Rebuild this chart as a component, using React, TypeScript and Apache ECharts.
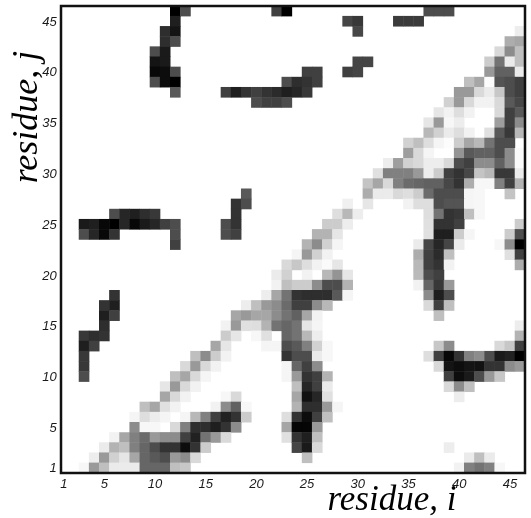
import React, { useEffect, useRef } from "react";
import * as echarts from "echarts";

const residues = Array.from({ length: 46 }, (_, k) => String(k + 1));
const tickedResidues = ["1", "5", "10", "15", "20", "25", "30", "35", "40", "45"];

// Each row: residue j, then [column index (residue i - 1), gray level 0 black .. 100 white]
const rows: [number, [number, number][]][] = [
  [46, [[11,0],[12,30],[21,25],[22,0],[36,30],[37,30],[38,30]]],
  [45, [[11,12],[28,27],[29,22],[33,23],[34,23],[35,23]]],
  [44, [[10,18],[11,8],[29,28],[45,93]]],
  [43, [[10,18],[11,30],[44,68],[45,65]]],
  [42, [[9,30],[10,10],[43,85],[44,55],[45,75]]],
  [41, [[9,8],[10,10],[29,27],[30,27],[42,80],[43,45],[44,92],[45,75]]],
  [40, [[9,3],[10,5],[11,30],[24,25],[25,25],[28,25],[29,27],[42,60],[43,38],[44,38],[45,92]]],
  [39, [[9,30],[10,5],[11,0],[22,30],[23,18],[24,20],[25,25],[40,75],[41,65],[42,99],[43,33],[44,30],[45,25]]],
  [38, [[11,35],[16,25],[17,12],[18,20],[19,25],[20,20],[21,17],[22,12],[23,15],[24,22],[39,60],[40,60],[41,85],[42,92],[43,78],[44,30],[45,25]]],
  [37, [[19,30],[20,25],[21,25],[22,30],[38,82],[39,60],[40,85],[41,95],[42,95],[43,85],[44,35],[45,28]]],
  [36, [[37,90],[38,95],[39,87],[40,95],[43,85],[44,25],[45,35]]],
  [35, [[36,90],[37,60],[38,97],[39,93],[43,62],[44,25],[45,55]]],
  [34, [[36,72],[37,82],[38,92],[39,87],[40,95],[42,88],[43,35],[44,22],[45,72]]],
  [33, [[34,82],[35,75],[36,87],[37,96],[38,99],[39,80],[40,65],[41,72],[42,45],[43,30],[44,30]]],
  [32, [[34,62],[35,85],[36,96],[39,58],[40,35],[41,38],[42,38],[43,30],[44,55],[45,98]]],
  [31, [[32,93],[33,62],[34,82],[35,85],[36,93],[37,93],[38,85],[39,30],[40,25],[41,55],[42,55],[43,38],[44,55],[45,98]]],
  [30, [[31,88],[32,50],[33,50],[34,50],[35,60],[36,93],[37,80],[38,25],[39,20],[40,28],[41,77],[42,72],[43,22],[44,22],[45,92]]],
  [29, [[30,77],[31,65],[32,85],[33,50],[34,42],[35,40],[36,38],[37,38],[38,28],[39,20],[40,68],[41,97],[42,97],[43,50],[44,25],[45,70]]],
  [28, [[18,35],[30,68],[31,92],[32,92],[33,85],[34,87],[35,80],[36,42],[37,30],[38,30],[39,30],[40,96],[41,97],[44,77]]],
  [27, [[17,20],[18,30],[28,94],[30,90],[34,95],[35,87],[36,87],[37,30],[38,33],[39,33],[40,96],[41,97]]],
  [26, [[5,30],[6,15],[7,12],[8,18],[9,22],[17,20],[27,87],[28,72],[29,93],[36,87],[37,45],[38,20],[39,22],[40,75],[41,97]]],
  [25, [[2,10],[3,12],[4,3],[5,0],[6,15],[7,3],[8,10],[9,15],[10,25],[11,30],[16,30],[17,20],[26,80],[27,80],[28,93],[36,88],[37,20],[38,20],[39,25],[45,80]]],
  [24, [[2,30],[3,15],[4,3],[5,20],[11,30],[16,30],[17,25],[25,70],[26,70],[27,90],[36,88],[37,12],[38,12],[39,80],[40,96],[44,80],[45,30]]],
  [23, [[11,25],[24,70],[25,55],[26,82],[27,96],[35,92],[36,27],[37,15],[38,27],[39,92],[43,97],[44,55],[45,0]]],
  [22, [[23,96],[24,60],[25,82],[26,95],[35,68],[36,25],[37,17],[38,75],[44,88],[45,25]]],
  [21, [[22,85],[23,78],[24,87],[25,95],[26,98],[27,90],[35,72],[36,25],[37,20],[38,95],[45,68]]],
  [20, [[21,92],[22,82],[24,95],[26,72],[27,58],[28,90],[35,73],[36,30],[37,25]]],
  [19, [[21,95],[22,75],[23,80],[24,80],[25,55],[26,30],[27,30],[28,70],[35,95],[36,40],[37,22],[38,60]]],
  [18, [[5,20],[20,93],[21,65],[22,45],[23,20],[24,18],[25,18],[26,18],[27,35],[28,96],[36,55],[37,12],[38,30]]],
  [17, [[4,20],[5,12],[18,93],[19,75],[20,60],[21,55],[22,42],[23,25],[24,25],[25,55],[26,72],[36,85],[37,25],[38,75]]],
  [16, [[4,12],[5,25],[17,65],[18,60],[19,65],[20,65],[21,55],[22,45],[23,38],[24,65],[25,95],[37,75]]],
  [15, [[4,18],[16,95],[17,60],[18,88],[19,87],[20,70],[21,45],[22,40],[23,45],[24,90],[25,96],[45,93]]],
  [14, [[2,22],[3,18],[4,20],[16,80],[17,90],[19,97],[20,88],[22,40],[23,45],[24,72],[25,93],[45,70]]],
  [13, [[2,12],[3,25],[15,65],[16,90],[20,96],[21,96],[22,30],[23,35],[24,50],[25,82],[26,97],[37,78],[38,55],[43,85],[44,78],[45,25]]],
  [12, [[2,22],[13,75],[14,55],[15,80],[16,95],[22,20],[23,30],[24,30],[25,92],[26,97],[36,87],[37,25],[38,3],[39,20],[40,50],[41,55],[42,30],[43,10],[44,13],[45,0]]],
  [11, [[2,22],[12,85],[13,60],[14,85],[15,95],[22,96],[23,40],[24,25],[25,55],[37,85],[38,8],[39,5],[40,8],[41,7],[42,20],[43,20],[44,55],[45,60]]],
  [10, [[2,30],[11,75],[12,65],[13,85],[14,96],[22,96],[23,60],[24,20],[25,25],[26,70],[38,25],[39,5],[40,10],[41,30],[42,60],[43,78]]],
  [9, [[10,90],[11,60],[12,85],[13,95],[23,75],[24,15],[25,25],[26,92],[38,85],[39,55],[40,75]]],
  [8, [[10,65],[11,85],[12,95],[16,97],[17,85],[23,65],[24,7],[25,15],[26,88],[39,93]]],
  [7, [[8,75],[9,65],[10,88],[11,95],[15,95],[16,55],[17,38],[18,97],[23,70],[24,18],[25,18],[26,60],[27,96]]],
  [6, [[7,96],[8,87],[9,93],[10,96],[12,96],[13,72],[14,50],[15,25],[16,13],[17,20],[18,80],[22,87],[23,20],[24,5],[25,25],[26,75]]],
  [5, [[7,55],[8,97],[9,97],[11,85],[12,50],[13,18],[14,18],[15,12],[16,20],[17,55],[22,65],[23,2],[24,2],[25,60]]],
  [4, [[5,95],[6,65],[7,50],[8,42],[9,60],[10,55],[11,55],[12,25],[13,13],[14,45],[15,60],[16,85],[22,88],[23,20],[24,12],[25,75]]],
  [3, [[4,92],[5,70],[6,75],[7,50],[8,40],[9,30],[10,20],[11,20],[12,5],[13,20],[14,80],[23,27],[24,10],[25,85],[38,93]]],
  [2, [[3,93],[4,60],[5,82],[6,90],[7,65],[8,40],[9,35],[10,30],[11,60],[12,55],[13,85],[24,75],[40,92],[41,75],[42,92]]],
  [1, [[2,97],[3,60],[4,75],[5,92],[6,92],[7,92],[8,40],[9,40],[10,40],[11,75],[12,78],[39,95],[40,50],[41,45],[42,50],[43,97]]],
];

const cellData: [number, number, number][] = [];
rows.forEach(([j, cells]) => cells.forEach(([c, g]) => cellData.push([c, j - 1, g])));

const tickStyle = {
  fontFamily: "Liberation Sans",
  fontStyle: "italic" as const,
  fontSize: 13,
  color: "#1a1a1a",
};

const titleStyle = {
  fontFamily: "Liberation Serif",
  fontStyle: "italic",
  lineHeight: 22,
  fill: "#000",
  textAlign: "center",
  textVerticalAlign: "middle",
};

const showTick = (_: number, value: string) => tickedResidues.includes(value);

export default function App() {
  const ref = useRef<HTMLDivElement>(null);
  useEffect(() => {
    const chart = echarts.init(ref.current!, undefined, { renderer: "svg" });
    chart.setOption({
      animation: false,
      backgroundColor: "#fff",
      grid: { left: 58.7, top: 6, width: 466.4, height: 467 },
      xAxis: {
        type: "category",
        data: residues,
        axisLine: { show: false },
        axisTick: { show: false },
        splitLine: { show: false },
        axisLabel: { ...tickStyle, interval: showTick, margin: 4 },
      },
      yAxis: {
        type: "category",
        data: residues,
        axisLine: { show: false },
        axisTick: { show: false },
        splitLine: { show: false },
        axisLabel: { ...tickStyle, interval: showTick, margin: 2 },
      },
      visualMap: {
        show: false,
        type: "continuous",
        min: 0,
        max: 100,
        dimension: 2,
        inRange: { color: ["#000000", "#ffffff"] },
      },
      series: [
        {
          type: "heatmap",
          data: cellData,
          progressive: 0,
          itemStyle: { borderWidth: 0 },
          emphasis: { disabled: true },
        },
      ],
      graphic: [
        {
          type: "rect",
          z: 100,
          silent: true,
          shape: { x: 61, y: 6, width: 464, height: 467 },
          style: { fill: "transparent", stroke: "#111", lineWidth: 2.5 },
        },
        {
          type: "text",
          z: 100,
          silent: true,
          x: 392,
          y: 498,
          style: { ...titleStyle, fontSize: 35, text: "residue, i" },
        },
        {
          type: "text",
          z: 100,
          silent: true,
          x: 25,
          y: 117,
          rotation: Math.PI / 2,
          style: { ...titleStyle, fontSize: 36, text: "residue, j" },
        },
      ],
    });
    return () => chart.dispose();
  }, []);
  return (
    <div
      ref={ref}
      style={{
        position: "fixed",
        left: 0,
        top: 0,
        width: 531,
        height: 518,
        filter: "blur(0.45px)",
      }}
    />
  );
}
